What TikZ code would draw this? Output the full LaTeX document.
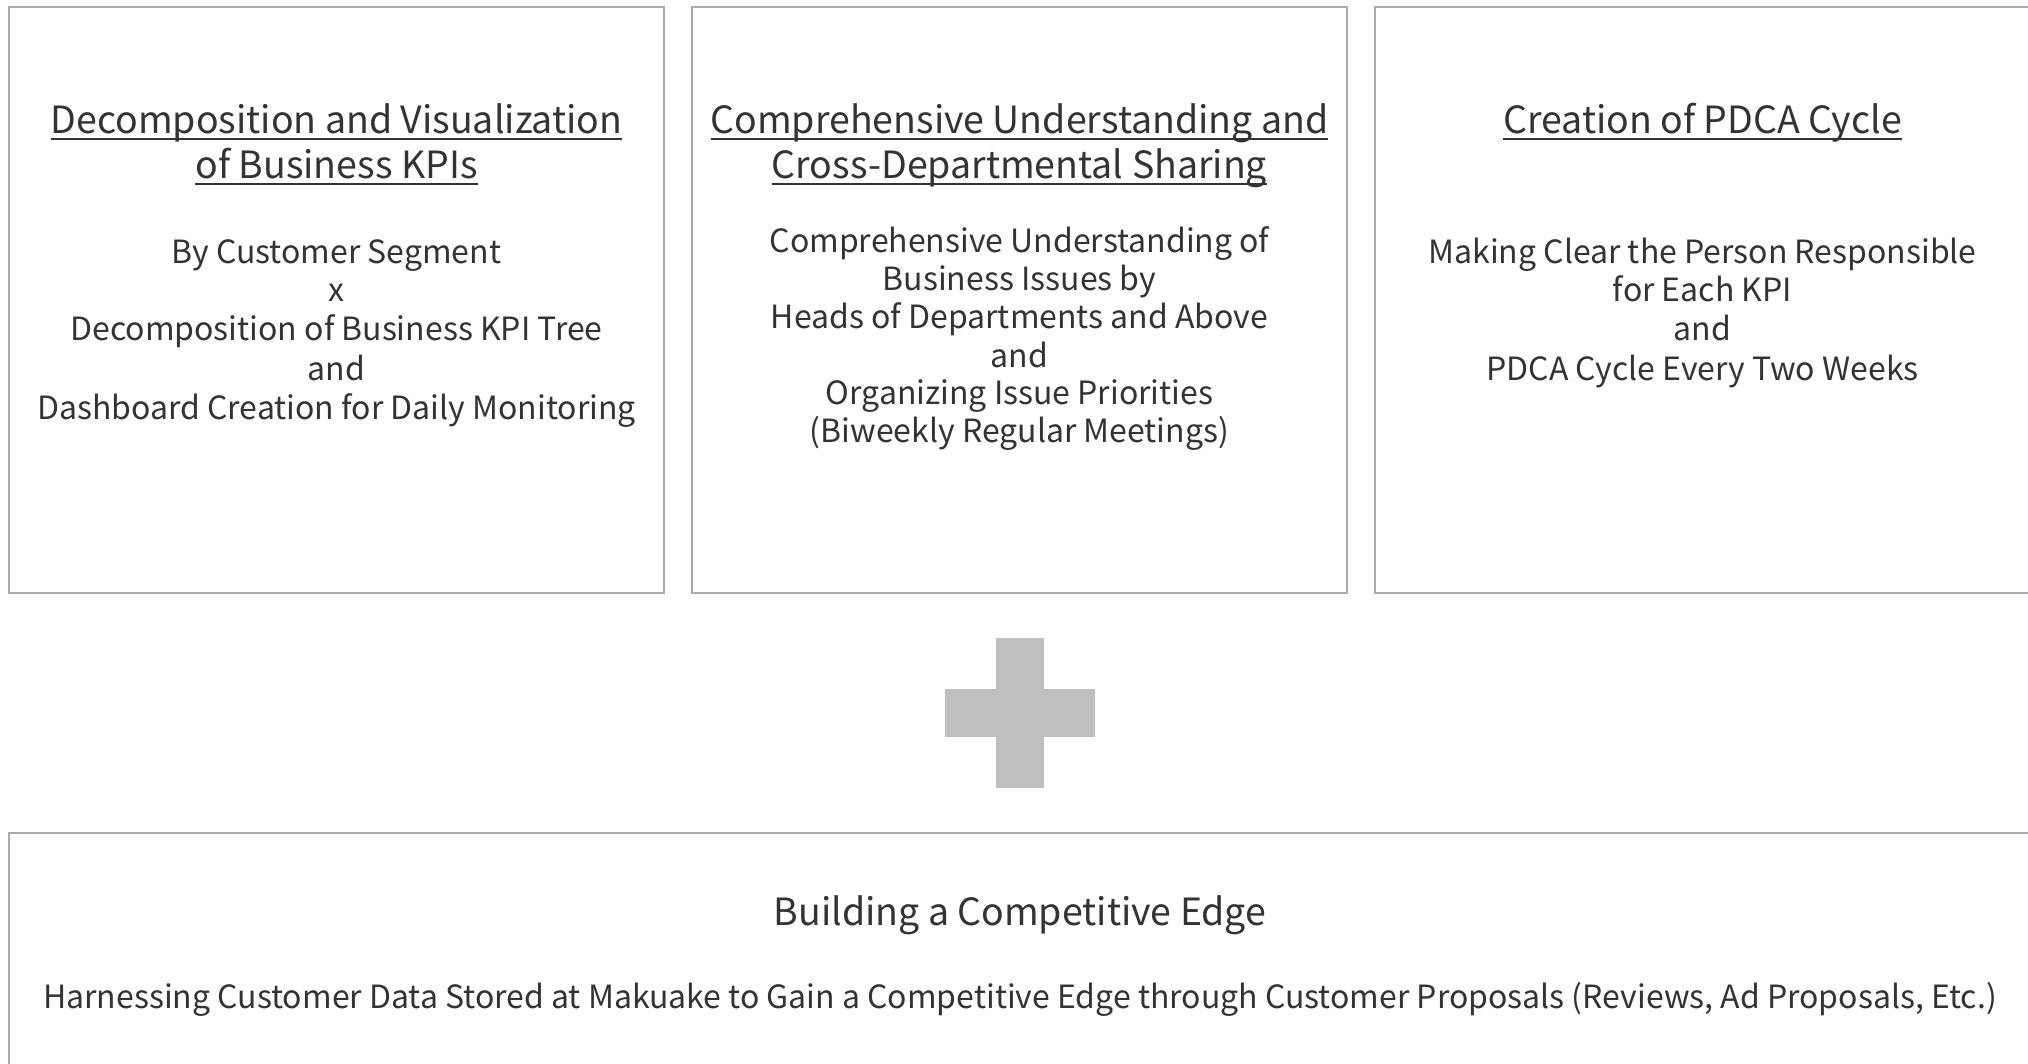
\documentclass[tikz,border=0pt]{standalone}
\usepackage{fontspec}
\setmainfont{Noto Sans CJK JP}
\definecolor{boxgray}{HTML}{AAAAAA}
\definecolor{txt}{HTML}{333333}
\definecolor{plusgray}{HTML}{BFBFBF}
\newcommand\ulx[1]{\leavevmode\setbox0\hbox{#1}\rlap{\color{txt}\rule[-6pt]{\wd0}{2pt}}\box0}
\begin{document}
\begin{tikzpicture}[x=1pt,y=-1pt,
  panel/.style={draw=boxgray,line width=2pt,inner sep=0,outer sep=0},
  ttl/.style={anchor=base,inner sep=0,text=txt,font=\fontsize{37.5}{45}\selectfont},
  bdy/.style={anchor=base,inner sep=0,text=txt,font=\fontsize{32}{38.8}\selectfont}]
\useasboundingbox (0,0) rectangle (2028,1064);
\clip (0,0) rectangle (2028,1064);
% panels
\node[panel,minimum width=655pt,minimum height=586pt] (p1) at (336.5,300) {};
\node[panel,minimum width=655pt,minimum height=586pt] (p2) at (1019.5,300) {};
\node[panel,minimum width=655pt,minimum height=586pt] (p3) at (1702.5,300) {};
\node[panel,minimum width=2031pt,minimum height=260pt] (p4) at (1024.5,963) {};
% plus sign
\fill[plusgray] (996,638) rectangle (1044,788);
\fill[plusgray] (945,689) rectangle (1095,737);
% panel 1
\node[ttl] (t1a) at (336.5,134) {\ulx{Decomposition and Visualization}};
\node[ttl] (t1b) at (336.5,179) {\ulx{of Business KPIs}};
\node[bdy] (b1a) at (336.5,264) {By Customer Segment};
\node[bdy] (b1b) at (336.5,302) {x};
\node[bdy] (b1c) at (336.5,341) {Decomposition of Business KPI Tree};
\node[bdy] (b1d) at (336.5,380) {and};
\node[bdy] (b1e) at (336.5,419) {Dashboard Creation for Daily Monitoring};
% panel 2
\node[ttl] (t2a) at (1019.5,134) {\ulx{Comprehensive Understanding and}};
\node[ttl] (t2b) at (1019.5,179) {\ulx{Cross-Departmental Sharing}};
\node[bdy] (b2a) at (1019.5,253) {Comprehensive Understanding of};
\node[bdy] (b2b) at (1019.5,291) {Business Issues by};
\node[bdy] (b2c) at (1019.5,329) {Heads of Departments and Above};
\node[bdy] (b2d) at (1019.5,367) {and};
\node[bdy] (b2e) at (1019.5,404) {Organizing Issue Priorities};
\node[bdy] (b2f) at (1019.5,442) {(Biweekly Regular Meetings)};
% panel 3
\node[ttl] (t3a) at (1702.5,134) {\ulx{Creation of PDCA Cycle}};
\node[bdy] (b3a) at (1702.5,264) {Making Clear the Person Responsible};
\node[bdy] (b3b) at (1702.5,302) {for Each KPI};
\node[bdy] (b3c) at (1702.5,341) {and};
\node[bdy] (b3d) at (1702.5,380) {PDCA Cycle Every Two Weeks};
% bottom
\node[ttl] (t4a) at (1020,925) {Building a Competitive Edge};
\node[bdy] (b4a) at (1020,1008) {Harnessing Customer Data Stored at Makuake to Gain a Competitive Edge through Customer Proposals (Reviews, Ad Proposals, Etc.)};
\end{tikzpicture}
\end{document}
